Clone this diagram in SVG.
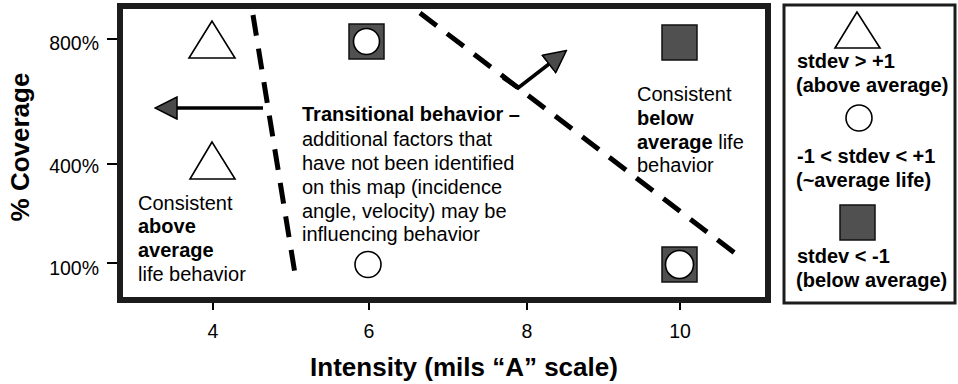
<svg xmlns="http://www.w3.org/2000/svg" width="958" height="384" viewBox="0 0 958 384">
  <style>
    text { font-family: "Liberation Sans", Arial, sans-serif; fill: #000; }
    .body { font-size: 20px; }
    .b { font-weight: bold; }
    .tick { font-size: 19.5px; }
    .title { font-size: 26px; font-weight: bold; }
    .frame { fill: none; stroke: #1c1c1c; stroke-width: 6; }
    .legend-frame { fill: #fff; stroke: #1c1c1c; stroke-width: 3; }
    .tri { fill: #fff; stroke: #000; stroke-width: 1.6; stroke-linejoin: miter; }
    .circ { fill: #fff; stroke: #000; stroke-width: 1.6; }
    .sq { fill: #505050; stroke: #111; stroke-width: 1.5; }
    .tk { stroke: #000; stroke-width: 2; }
    .dash { fill: none; stroke: #000; stroke-width: 5; stroke-dasharray: 21 13; }
    .shaft { fill: none; stroke: #000; stroke-width: 3.5; }
  </style>
  <defs>
    <marker id="head" viewBox="0 0 24 24" refX="1" refY="12" markerWidth="24" markerHeight="24" markerUnits="userSpaceOnUse" orient="auto">
      <path d="M1,1 L23,12 L1,23 Z" fill="#4a4a4a" stroke="#000" stroke-width="1.5" stroke-linejoin="miter"/>
    </marker>
  </defs>

  <rect width="958" height="384" fill="#fff"/>

  <!-- plot area frame -->
  <rect id="plot-frame" class="frame" x="120" y="6" width="648" height="294"/>

  <!-- axis ticks -->
  <g id="ticks">
    <line class="tk" x1="107" y1="39" x2="117" y2="39"/>
    <line class="tk" x1="107" y1="164" x2="117" y2="164"/>
    <line class="tk" x1="107" y1="263" x2="117" y2="263"/>
    <line class="tk" x1="213" y1="303" x2="213" y2="310"/>
    <line class="tk" x1="369" y1="303" x2="369" y2="310"/>
    <line class="tk" x1="527" y1="303" x2="527" y2="310"/>
    <line class="tk" x1="680" y1="303" x2="680" y2="310"/>
  </g>

  <!-- tick labels -->
  <g id="tick-labels" class="tick">
    <text x="99" y="50" text-anchor="end">800%</text>
    <text x="99" y="173" text-anchor="end">400%</text>
    <text x="99" y="275" text-anchor="end">100%</text>
    <text x="213" y="338" text-anchor="middle">4</text>
    <text x="369" y="338" text-anchor="middle">6</text>
    <text x="527" y="338" text-anchor="middle">8</text>
    <text x="680" y="338" text-anchor="middle">10</text>
  </g>

  <!-- axis titles -->
  <text id="x-title" class="title" x="464" y="376" text-anchor="middle">Intensity (mils “A” scale)</text>
  <text id="y-title" class="title" transform="translate(29,147) rotate(-90)" text-anchor="middle">% Coverage</text>

  <!-- boundaries and trend arrows -->
  <g id="connectors">
    <line class="dash" x1="253" y1="15" x2="296" y2="280"/>
    <line class="dash" x1="420" y1="13" x2="740" y2="257"/>
    <line class="shaft" x1="263" y1="108" x2="177" y2="108" marker-end="url(#head)"/>
    <polyline class="shaft" points="503,78 518,88 549,64" marker-end="url(#head)"/>
  </g>

  <!-- data points -->
  <g id="pt-4-800"><polygon class="tri" points="212,21 189,58 235,58"/></g>
  <g id="pt-4-400"><polygon class="tri" points="212,142 190,179 235,179"/></g>
  <g id="pt-6-800">
    <rect class="sq" x="349" y="24" width="35" height="35"/>
    <circle class="circ" cx="366.5" cy="41.5" r="13"/>
  </g>
  <g id="pt-6-100"><circle class="circ" cx="368" cy="264.5" r="13"/></g>
  <g id="pt-10-800"><rect class="sq" x="662" y="25" width="35" height="35"/></g>
  <g id="pt-10-100">
    <rect class="sq" x="662" y="247" width="35" height="35"/>
    <circle class="circ" cx="679.5" cy="264.5" r="14"/>
  </g>

  <!-- region annotations -->
  <g id="note-above" class="body">
    <text x="138" y="210">Consistent</text>
    <text x="138" y="233" class="b">above</text>
    <text x="138" y="257" class="b">average</text>
    <text x="138" y="281">life behavior</text>
  </g>
  <g id="note-transitional" class="body">
    <text x="302" y="121" class="b">Transitional behavior –</text>
    <text x="302" y="146">additional factors that</text>
    <text x="302" y="170">have not been identified</text>
    <text x="302" y="194">on this map (incidence</text>
    <text x="302" y="218">angle, velocity) may be</text>
    <text x="302" y="241">influencing behavior</text>
  </g>
  <g id="note-below" class="body">
    <text x="637" y="101">Consistent</text>
    <text x="637" y="125" class="b">below</text>
    <text x="637" y="149"><tspan class="b">average</tspan> life</text>
    <text x="637" y="172">behavior</text>
  </g>

  <!-- legend -->
  <g id="legend">
    <rect class="legend-frame" x="784" y="5" width="171" height="298"/>
    <polygon class="tri" points="857,12 835,48 880,48"/>
    <text class="body b" x="797" y="68">stdev &gt; +1</text>
    <text class="body b" x="796" y="92">(above average)</text>
    <circle class="circ" cx="859" cy="118" r="13"/>
    <text class="body b" x="797" y="163">-1 &lt; stdev &lt; +1</text>
    <text class="body b" x="796" y="187">(~average life)</text>
    <rect class="sq" x="840" y="205" width="35" height="35"/>
    <text class="body b" x="797" y="263">stdev &lt; -1</text>
    <text class="body b" x="796" y="287">(below average)</text>
  </g>
</svg>
